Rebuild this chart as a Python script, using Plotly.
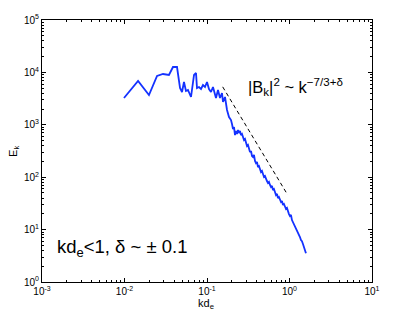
import plotly.graph_objects as go

kd = [0.00986, 0.0146, 0.0198, 0.0248, 0.0293, 0.0346, 0.0387, 0.0433, 0.0471, 0.0498,
      0.0526, 0.0556, 0.0588, 0.0640, 0.0696, 0.0736, 0.0756, 0.0800, 0.0846, 0.0894,
      0.0946, 0.100, 0.1057, 0.1118, 0.1182, 0.1285, 0.1359, 0.1437, 0.1520, 0.1563,
      0.1653, 0.1748, 0.1848, 0.1954, 0.2009, 0.2066, 0.2125, 0.2185, 0.2247, 0.2310,
      0.2376, 0.2443, 0.2512, 0.2583, 0.2656, 0.2731, 0.2809, 0.2888, 0.2970, 0.3054,
      0.3140, 0.3229, 0.3320, 0.3414, 0.3511, 0.3610, 0.3712, 0.3817, 0.3925, 0.4036,
      0.4150, 0.4268, 0.4388, 0.4512, 0.4640, 0.4771, 0.4906, 0.5045, 0.5188, 0.5334,
      0.5485, 0.5640, 0.5800, 0.5964, 0.6132, 0.6306, 0.6484, 0.6667, 0.6856, 0.7050,
      0.7249, 0.7454, 0.7665, 0.7882, 0.8105, 0.8334, 0.8570, 0.8812, 0.9061, 0.9318,
      0.9581, 0.9852, 1.0131, 1.0417, 1.0712, 1.1015, 1.1327, 1.1647, 1.1977, 1.2315,
      1.2664, 1.3022, 1.3390, 1.3769, 1.4159, 1.4559, 1.4971, 1.5395, 1.5830]

Ek = [3246, 6853, 3704, 8538, 9322, 8921, 12680, 12680, 5038, 4226,
      6559, 4416, 4614, 3392, 8921, 9741, 5038, 5265, 4822, 5749,
      5265, 6559, 4822, 4226, 5265, 3246, 4614, 3246, 4044, 2723,
      3392, 1916, 1408, 1234, 1035, 831, 907, 638, 761, 667,
      795, 697, 761, 638, 667, 560, 513, 536, 449, 394,
      412, 330, 302, 316, 254, 243, 265, 204, 186, 195,
      156, 163, 137, 125, 131, 110, 101, 105, 88.4, 84.6,
      77.5, 81.0, 71.0, 65.0, 67.9, 57.0, 59.5, 49.9, 45.7, 47.8,
      40.1, 41.9, 36.7, 33.6, 35.1, 29.5, 30.8, 27.0, 24.7, 25.8,
      21.7, 19.8, 18.2, 19.0, 15.2, 13.9, 12.8, 11.7, 10.2, 9.8,
      8.6, 8.2, 7.2, 6.3, 6.0, 5.3, 4.6, 4.2, 3.55]

fit_k = [0.155, 0.95]
fit_E = [5300, 46]

x_tickvals = [1e-3, 1e-2, 1e-1, 1e0, 1e1]
x_ticktext = ["10<sup>-3</sup>", "10<sup>-2</sup>", "10<sup>-1</sup>", "10<sup>0</sup>", "10<sup>1</sup>"]
y_tickvals = [1e0, 1e1, 1e2, 1e3, 1e4, 1e5]
y_ticktext = ["10<sup>0</sup>", "10<sup>1</sup>", "10<sup>2</sup>", "10<sup>3</sup>", "10<sup>4</sup>", "10<sup>5</sup>"]

font = "Liberation Sans, Arial, sans-serif"

fig = go.Figure()
fig.add_trace(go.Scatter(x=kd, y=Ek, mode="lines",
                         line=dict(color="rgb(20,50,255)", width=1.8), showlegend=False))
fig.add_trace(go.Scatter(x=fit_k, y=fit_E, mode="lines",
                         line=dict(color="black", width=1, dash="4px,3px"), showlegend=False))

axis_common = dict(type="log", showgrid=False, zeroline=False, showline=True, automargin=False,
                   linecolor="black", linewidth=1, mirror="ticks", ticks="inside",
                   ticklen=4, tickcolor="black", tickfont=dict(size=10, color="black", family=font),
                   minor=dict(ticks="inside", ticklen=2, tickcolor="black", dtick="D1", showgrid=False))

fig.update_xaxes(range=[-3, 1], tickvals=x_tickvals, ticktext=x_ticktext, **axis_common)
fig.update_yaxes(range=[0, 5], tickvals=y_tickvals, ticktext=y_ticktext, **axis_common)

# axis titles
fig.add_annotation(x=0.497, y=-0.048, xref="paper", yref="paper", xanchor="center", yanchor="top",
                   text="kd<sub>e</sub>", showarrow=False,
                   font=dict(size=11, color="black", family=font))
fig.add_annotation(x=-0.085, y=0.5, xref="paper", yref="paper", xanchor="center", yanchor="middle",
                   text="E<sub>k</sub>", showarrow=False, textangle=-90,
                   font=dict(size=11, color="black", family=font))

fig.add_annotation(x=0.617, y=0.745, xref="paper", yref="paper", xanchor="left", yanchor="middle",
                   text="|B<sub>k</sub>|<sup>2</sup> ~ k<sup>−7/3+δ</sup>", showarrow=False,
                   font=dict(size=16.5, color="black", family=font))
fig.add_annotation(x=0.038, y=0.13, xref="paper", yref="paper", xanchor="left", yanchor="middle",
                   text="kd<sub>e</sub><1, δ ~ ± 0.1", showarrow=False,
                   font=dict(size=18.5, color="black", family=font))

fig.update_layout(width=415, height=315, margin=dict(l=42, r=43, t=20, b=33, autoexpand=False),
                  paper_bgcolor="white", plot_bgcolor="white", font=dict(family=font),
                  template="none")

fig.write_html("out.html", config={"displayModeBar": False},
               post_script="document.body.style.margin='0';document.body.style.overflow='hidden';")
